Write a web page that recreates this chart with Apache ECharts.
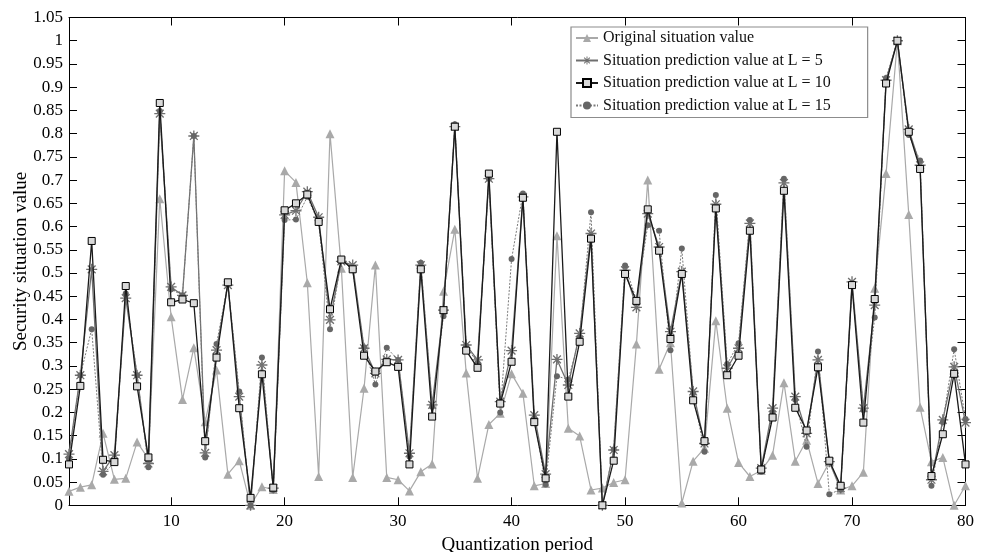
<!DOCTYPE html>
<html>
<head>
<meta charset="utf-8">
<script src="https://cdn.jsdelivr.net/npm/echarts@6/dist/echarts.min.js"></script>
<style>
  html, body { margin: 0; padding: 0; background: #fff; }
  #chart { width: 983px; height: 552px; }
</style>
</head>
<body>
<div id="chart"></div>
<script>
const periods = [1, 2, 3, 4, 5, 6, 7, 8, 9, 10, 11, 12, 13, 14, 15, 16, 17, 18, 19, 20,
  21, 22, 23, 24, 25, 26, 27, 28, 29, 30, 31, 32, 33, 34, 35, 36, 37, 38, 39, 40,
  41, 42, 43, 44, 45, 46, 47, 48, 49, 50, 51, 52, 53, 54, 55, 56, 57, 58, 59, 60,
  61, 62, 63, 64, 65, 66, 67, 68, 69, 70, 71, 72, 73, 74, 75, 76, 77, 78, 79, 80];

const xTicks = [10, 20, 30, 40, 50, 60, 70, 80];

const original = [0.03, 0.039, 0.044, 0.155, 0.056, 0.058, 0.136, 0.1, 0.66, 0.406,
  0.228, 0.339, 0.18, 0.291, 0.067, 0.096, 0, 0.04, 0.034, 0.72,
  0.695, 0.479, 0.062, 0.8, 0.51, 0.06, 0.252, 0.517, 0.06, 0.055,
  0.031, 0.072, 0.089, 0.461, 0.594, 0.285, 0.058, 0.174, 0.198, 0.283,
  0.241, 0.042, 0.047, 0.58, 0.166, 0.149, 0.033, 0.037, 0.049, 0.055,
  0.347, 0.7, 0.293, 0.35, 0.005, 0.095, 0.123, 0.397, 0.209, 0.092,
  0.062, 0.075, 0.108, 0.264, 0.095, 0.14, 0.047, 0.093, 0.033, 0.042,
  0.071, 0.467, 0.714, 1.0, 0.626, 0.211, 0.094, 0.103, 0, 0.042];

const predL5 = [0.11, 0.28, 0.508, 0.073, 0.108, 0.446, 0.28, 0.09, 0.843, 0.47,
  0.452, 0.795, 0.113, 0.334, 0.474, 0.234, 0, 0.302, 0.037, 0.625,
  0.634, 0.675, 0.62, 0.399, 0.525, 0.517, 0.338, 0.284, 0.314, 0.313,
  0.112, 0.517, 0.216, 0.42, 0.815, 0.345, 0.313, 0.703, 0.223, 0.333,
  0.664, 0.194, 0.067, 0.314, 0.259, 0.37, 0.585, 0, 0.119, 0.506,
  0.426, 0.628, 0.556, 0.374, 0.503, 0.245, 0.133, 0.648, 0.295, 0.338,
  0.607, 0.08, 0.209, 0.694, 0.234, 0.155, 0.313, 0.094, 0.037, 0.481,
  0.209, 0.431, 0.915, 1.0, 0.809, 0.732, 0.055, 0.184, 0.298, 0.178];

const predL10 = [0.088, 0.257, 0.569, 0.098, 0.093, 0.472, 0.256, 0.103, 0.866, 0.437,
  0.443, 0.435, 0.138, 0.318, 0.48, 0.209, 0.016, 0.282, 0.038, 0.635,
  0.65, 0.669, 0.61, 0.422, 0.529, 0.508, 0.322, 0.288, 0.308, 0.298,
  0.088, 0.508, 0.191, 0.42, 0.815, 0.333, 0.296, 0.714, 0.219, 0.309,
  0.662, 0.179, 0.058, 0.804, 0.234, 0.352, 0.574, 0, 0.096, 0.498,
  0.44, 0.637, 0.548, 0.358, 0.498, 0.226, 0.138, 0.639, 0.28, 0.322,
  0.591, 0.077, 0.189, 0.677, 0.21, 0.161, 0.297, 0.096, 0.042, 0.474,
  0.178, 0.444, 0.908, 1.0, 0.804, 0.724, 0.063, 0.153, 0.283, 0.088];

const predL15 = [0.1, 0.28, 0.379, 0.066, 0.093, 0.456, 0.28, 0.082, 0.849, 0.465,
  0.452, 0.795, 0.103, 0.347, 0.477, 0.245, 0, 0.318, 0.033, 0.614,
  0.615, 0.664, 0.608, 0.379, 0.53, 0.506, 0.34, 0.26, 0.339, 0.313,
  0.105, 0.522, 0.212, 0.407, 0.82, 0.343, 0.306, 0.703, 0.2, 0.53,
  0.671, 0.187, 0.045, 0.278, 0.271, 0.361, 0.631, 0, 0.12, 0.516,
  0.442, 0.603, 0.591, 0.334, 0.553, 0.241, 0.115, 0.668, 0.304, 0.349,
  0.614, 0.072, 0.2, 0.703, 0.227, 0.126, 0.331, 0.024, 0.034, 0.474,
  0.205, 0.404, 0.92, 1.0, 0.797, 0.742, 0.042, 0.179, 0.336, 0.186];

const FONT = "Liberation Serif";
const asterisk = "path://M-0.6,-5H0.6V5H-0.6Z M-5,-0.6H5V0.6H-5Z " +
  "M-3.96,-3.11L-3.11,-3.96L3.96,3.11L3.11,3.96Z M3.96,-3.11L-3.11,3.96L-3.96,3.11L3.11,-3.96Z";

const pairs = (values) => periods.map((p, i) => [p, values[i]]);

const xBase = {
  type: "value",
  min: 1,
  max: 80,
  splitLine: { show: false },
  axisLine: { onZero: false, lineStyle: { color: "#000", width: 1 } },
  axisTick: { inside: true, length: 8, customValues: xTicks, lineStyle: { color: "#000" } },
};

const yBase = {
  type: "value",
  min: 0,
  max: 1.05,
  interval: 0.05,
  splitLine: { show: false },
  axisLine: { show: true, onZero: false, lineStyle: { color: "#000", width: 1 } },
  axisTick: { show: true, inside: true, length: 8, lineStyle: { color: "#000" } },
};

const chart = echarts.init(document.getElementById("chart"), null, { renderer: "canvas" });

chart.setOption({
  animation: false,
  backgroundColor: "#fff",
  textStyle: { fontFamily: FONT },
  grid: { left: 69, right: 17.5, top: 17.5, bottom: 46.7, outerBoundsMode: "none", containLabel: false },
  legend: {
    orient: "vertical",
    left: 571,
    top: 27,
    padding: [3, 37, 4, 4],
    itemGap: 6.5,
    itemWidth: 22,
    itemHeight: 10,
    backgroundColor: "#fff",
    borderColor: "#8c8c8c",
    borderWidth: 1.2,
    borderRadius: 0,
    textStyle: { fontFamily: FONT, fontSize: 16, color: "#111", lineHeight: 16 },
    data: [
      "Original situation value",
      "Situation prediction value at L = 5",
      "Situation prediction value at L = 10",
      "Situation prediction value at L = 15",
    ],
  },
  xAxis: [
    {
      ...xBase,
      position: "bottom",
      name: "Quantization period",
      nameLocation: "middle",
      nameGap: 30,
      nameMoveOverlap: false,
      nameTextStyle: { fontFamily: FONT, fontSize: 19, color: "#000" },
      axisLabel: { customValues: xTicks, margin: 8, fontFamily: FONT, fontSize: 17, color: "#000" },
    },
    { ...xBase, position: "top", axisLabel: { show: false } },
  ],
  yAxis: [
    {
      ...yBase,
      position: "left",
      name: "Security situation value",
      nameLocation: "middle",
      nameGap: 38,
      nameMoveOverlap: false,
      nameTextStyle: { fontFamily: FONT, fontSize: 19, color: "#000" },
      axisLabel: {
        margin: 6,
        fontFamily: FONT,
        fontSize: 17,
        color: "#000",
        formatter: (v) => String(+v.toFixed(2)),
      },
    },
    { ...yBase, position: "right", axisLabel: { show: false } },
  ],
  series: [
    {
      name: "Original situation value",
      type: "line",
      data: pairs(original),
      symbol: "triangle",
      symbolSize: 9,
      lineStyle: { color: "#a9a9a9", width: 1.2 },
      itemStyle: { color: "#a9a9a9" },
      z: 2,
    },
    {
      name: "Situation prediction value at L = 5",
      type: "line",
      data: pairs(predL5),
      symbol: asterisk,
      symbolSize: 11,
      lineStyle: { color: "#6f6f6f", width: 1.3 },
      itemStyle: { color: "#6f6f6f" },
      z: 3,
    },
    {
      name: "Situation prediction value at L = 15",
      type: "line",
      data: pairs(predL15),
      symbol: "circle",
      symbolSize: 6,
      lineStyle: { color: "#7a7a7a", width: 1, type: [2, 1.5] },
      itemStyle: { color: "#666" },
      z: 4,
    },
    {
      name: "Situation prediction value at L = 10",
      type: "line",
      data: pairs(predL10),
      symbol: "rect",
      symbolSize: 7,
      lineStyle: { color: "#1a1a1a", width: 1.3 },
      itemStyle: { color: "#d9d9d9", borderColor: "#000", borderWidth: 1 },
      z: 5,
    },
  ],
});
</script>
</body>
</html>
